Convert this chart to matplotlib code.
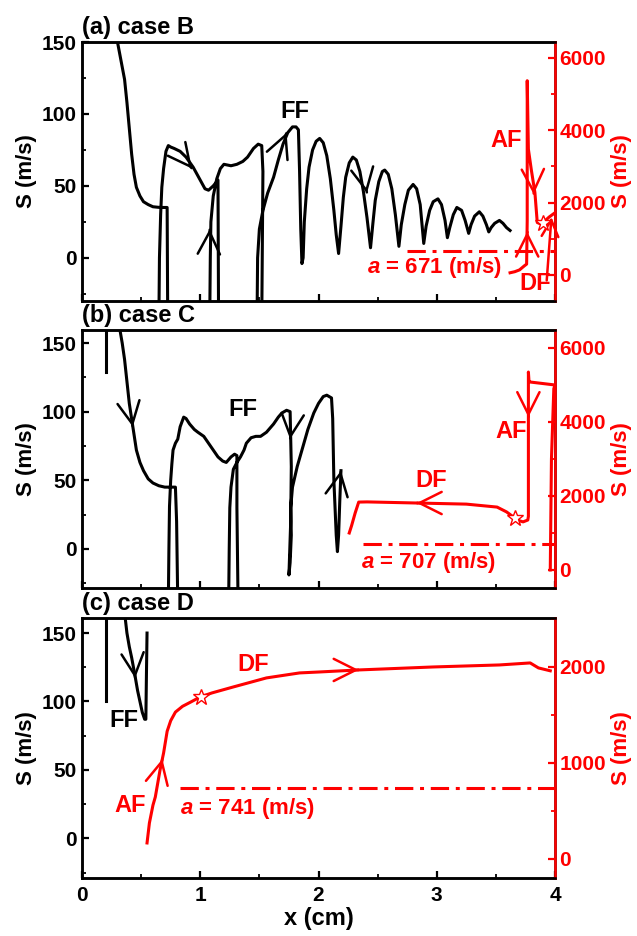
import matplotlib
matplotlib.use("Agg")
import matplotlib.pyplot as plt
from matplotlib.ticker import MultipleLocator
import numpy as np

plt.rcParams['font.family'] = ['Liberation Sans', 'DejaVu Sans']
plt.rcParams['font.weight'] = 'bold'
plt.rcParams['axes.labelweight'] = 'bold'
plt.rcParams['mathtext.fontset'] = 'custom'
plt.rcParams['mathtext.it'] = 'Liberation Sans:italic:bold'
plt.rcParams['mathtext.rm'] = 'Liberation Sans:bold'

# ---------------- data ----------------
# case B (panel a), black: flame speed S (m/s), left axis
b_black_x = [0.29, 0.30, 0.33, 0.36, 0.38, 0.40, 0.42, 0.44, 0.46, 0.49, 0.52, 0.56, 0.60, 0.66, 0.71,
             0.72, 0.725, 0.65, 0.655, 0.665, 0.675, 0.69, 0.71, 0.73, 0.75, 0.78, 0.83, 0.88, 0.94,
             1.00, 1.04, 1.07, 1.11, 1.14, 1.15, 1.155, 1.08, 1.085, 1.09, 1.11, 1.14, 1.17, 1.20,
             1.26, 1.31, 1.36, 1.40, 1.45, 1.49, 1.52, 1.53, 1.52, 1.48, 1.485, 1.50, 1.53, 1.57,
             1.62, 1.66, 1.70, 1.74, 1.78, 1.81, 1.83, 1.84, 1.85, 1.86, 1.87, 1.88, 1.90, 1.92,
             1.95, 1.98, 2.01, 2.04, 2.07, 2.10, 2.13, 2.15, 2.17, 2.19, 2.21, 2.23, 2.26, 2.29,
             2.32, 2.35, 2.38, 2.41, 2.44, 2.46, 2.48, 2.51, 2.54, 2.56, 2.59, 2.62, 2.65, 2.68,
             2.70, 2.73, 2.76, 2.80, 2.83, 2.86, 2.89, 2.91, 2.94, 2.97, 3.01, 3.04, 3.07, 3.09,
             3.11, 3.14, 3.17, 3.21, 3.24, 3.27, 3.29, 3.32, 3.36, 3.39, 3.42, 3.44, 3.46, 3.49,
             3.53, 3.56, 3.59, 3.62]
b_black_y = [165, 150, 137, 124, 108, 90, 72, 58, 49, 43, 39, 37, 35.5, 35, 35,
             35, -45, -45, 0, 30, 49, 62, 74, 78, 77, 76, 74, 70, 63,
             54, 48, 47, 50, 53, 54, -45, -45, 0, 25, 43, 55, 62, 65,
             64, 65, 67, 70, 76, 79, 78, 60, -45, -45, 0, 20, 33, 45,
             56, 68, 79, 87, 91, 91, 89, 60, 20, -4, 0, 25, 48, 63,
             75, 81, 83, 80, 71, 55, 33, 16, 3, 22, 42, 56, 66, 70,
             68, 60, 46, 28, 7, 24, 40, 53, 60, 61, 58, 48, 30, 8,
             23, 37, 47, 51, 48, 37, 10, 22, 33, 39, 41, 37, 26, 14,
             21, 30, 35, 33, 26, 17, 23, 29, 32, 29, 23, 18, 21, 24,
             26, 24, 21, 19]
# case B red: right axis
b_red_x = [3.62, 3.66, 3.70, 3.74, 3.76, 3.765, 3.765, 3.775, 3.80, 3.83, 3.85, 3.87, 3.90, 3.95, 4.0]
b_red_y = [60, 90, 140, 250, 300, 1500, 5370, 3475, 2900, 2280, 1450, 1420, 1450, 1600, 1720]
b_star = (3.90, 1450)
b_a = 671

# case C (panel b)
c_tick_x = [0.20, 0.20]
c_tick_y = [165, 129]
c_black_x = [0.315, 0.32, 0.34, 0.36, 0.38, 0.40, 0.43, 0.46, 0.49, 0.52, 0.56, 0.60, 0.65, 0.70,
             0.79, 0.80, 0.81, 0.73, 0.735, 0.74, 0.75, 0.76, 0.77, 0.79, 0.81, 0.83, 0.86, 0.88,
             0.91, 0.95, 0.98, 1.03, 1.07, 1.11, 1.15, 1.19, 1.22, 1.26, 1.29, 1.31, 1.31, 1.32,
             1.24, 1.245, 1.25, 1.26, 1.28, 1.31, 1.34, 1.37, 1.39, 1.43, 1.47, 1.51, 1.56, 1.62,
             1.66, 1.69, 1.73, 1.76, 1.77, 1.765, 1.75, 1.76, 1.77, 1.765, 1.78, 1.82, 1.87, 1.91,
             1.96, 2.00, 2.04, 2.07, 2.11, 2.12, 2.13, 2.15, 2.16, 2.17, 2.18, 2.19]
c_black_y = [165, 160, 150, 138, 122, 106, 89, 72, 63, 57, 51, 48, 46, 45,
             45, 20, -40, -40, 0, 31, 50, 62, 72, 77, 80, 89, 96, 95,
             91, 87, 85, 82, 77, 72, 67, 64, 63, 67, 69, 68, 30, -40,
             -40, 0, 30, 45, 58, 63, 67, 72, 77, 81, 82, 82, 85, 91,
             96, 99, 101, 100, 60, 20, -19, -10, 10, 30, 45, 60, 75, 87,
             99, 106, 111, 112, 110, 95, 50, 10, -2, 10, 35, 57]
c_red_x = [3.96, 3.97, 3.99, 4.0, 3.79, 3.78, 3.775, 3.775, 3.77, 3.73, 3.69, 3.66, 3.62, 3.59,
           3.51, 3.25, 2.83, 2.41, 2.34, 2.31, 2.28, 2.26]
c_red_y = [0, 3000, 4900, 5000, 5080, 5100, 5350, 1450, 1350, 1300, 1340, 1400, 1500, 1570,
           1700, 1780, 1810, 1840, 1835, 1540, 1200, 1000]
c_star = (3.66, 1400)
c_a = 707

# case D (panel c)
d_tick_x = [0.20, 0.20]
d_tick_y = [165, 100]
d_black_x = [0.36, 0.38, 0.40, 0.42, 0.45, 0.47, 0.49, 0.51, 0.53, 0.54, 0.545, 0.55]
d_black_y = [165, 150, 140, 132, 118, 108, 100, 92, 87, 87, 120, 150]
d_red_x = [0.55, 0.57, 0.60, 0.62, 0.66, 0.69, 0.72, 0.75, 0.79, 0.85, 0.92, 1.00, 1.10, 1.28, 1.56,
           1.84, 2.01, 2.34, 2.97, 3.53, 3.79, 3.86, 3.96]
d_red_y = [167, 375, 560, 646, 927, 1104, 1330, 1440, 1530, 1590, 1635, 1688, 1730, 1792, 1886,
           1938, 1948, 1969, 2000, 2021, 2042, 1990, 1960]
d_star = (1.01, 1690)
d_a = 741

RED = '#ff0000'
LW = 2.2
FS = 15
TFS = 17
DASH = (0, (6, 2.2, 1.3, 2.2))

fig = plt.figure(figsize=(6.37, 9.36), dpi=100)
L, W = 82 / 637, 473 / 637
boxes = [(42, 301), (330, 588), (618, 878)]
ylims_l = [(-30, 150), (-28.5, 159.5), (-29, 161)]
ylims_r = [(-720, 6440), (-487, 6486), (-198, 2510)]
titles = ['(a) case B', '(b) case C', '(c) case D']

axes = []
for i, (t, b) in enumerate(boxes):
    ax = fig.add_axes([L, 1 - b / 936, W, (b - t) / 936])
    ax2 = ax.twinx()
    ax.set_xlim(0, 4)
    ax.set_ylim(*ylims_l[i])
    ax2.set_ylim(*ylims_r[i])
    ax.xaxis.set_major_locator(MultipleLocator(1))
    ax.xaxis.set_minor_locator(MultipleLocator(0.5))
    ax.yaxis.set_major_locator(MultipleLocator(50))
    ax.yaxis.set_minor_locator(MultipleLocator(25))
    if i < 2:
        ax2.yaxis.set_major_locator(MultipleLocator(2000))
        ax2.yaxis.set_minor_locator(MultipleLocator(1000))
    else:
        ax2.yaxis.set_major_locator(MultipleLocator(1000))
        ax2.yaxis.set_minor_locator(MultipleLocator(500))
    for a in (ax, ax2):
        for s in a.spines.values():
            s.set_linewidth(1.8)
    ax2.spines['right'].set_color(RED)
    ax.tick_params(axis='both', which='major', direction='in', length=5, width=1.6,
                   labelsize=FS, top=False, right=False, pad=4)
    ax.tick_params(axis='x', which='major', pad=6)
    ax.tick_params(axis='both', which='minor', direction='in', length=3, width=1.3,
                   top=False, right=False)
    ax2.tick_params(axis='y', which='major', direction='in', length=5, width=1.6,
                    labelsize=FS, colors=RED, pad=3)
    ax2.tick_params(axis='y', which='minor', direction='in', length=3, width=1.3, colors=RED)
    if i < 2:
        ax.tick_params(axis='x', labelbottom=False)
    ax.set_ylabel('S (m/s)', fontsize=TFS - 1, fontweight='bold', labelpad=3)
    ax2.set_ylabel('S (m/s)', fontsize=TFS - 1, fontweight='bold', color=RED, labelpad=4)
    ax.text(0.0, 1.012, titles[i], transform=ax.transAxes, fontsize=TFS,
            fontweight='bold', ha='left', va='bottom')
    axes.append((ax, ax2))

axes[2][0].set_xlabel('x (cm)', fontsize=TFS, fontweight='bold', labelpad=1)


def chevron(a, x, y, ang, color, size=1.0):
    r = np.deg2rad(ang)
    a.annotate('', xy=(x, y), xytext=(-0.5 * np.cos(r), -0.5 * np.sin(r)),
               textcoords='offset points',
               arrowprops=dict(arrowstyle='->,head_length=1.6,head_width=0.8',
                               mutation_scale=10 * size, lw=1.8, color=color,
                               shrinkA=0, shrinkB=0))


def star(a, p):
    a.plot([p[0]], [p[1]], marker='*', ms=12, mfc='white', mec=RED, mew=1.0, zorder=6)


def alab(a, x, y, val):
    a.text(x, y, r'$a$ = %d (m/s)' % val, color=RED, fontsize=FS + 1, fontweight='bold',
           ha='center', va='center')

# ----- panel a -----
ax, ax2 = axes[0]
ax.plot(b_black_x, b_black_y, color='k', lw=LW, zorder=3)
ax2.plot(b_red_x, b_red_y, color=RED, lw=LW, zorder=3)
ax2.plot([2.75, 4.0], [b_a, b_a], color=RED, lw=LW, ls=DASH, zorder=2)
star(ax2, b_star)
chevron(ax, 0.93, 62, -52, 'k')
chevron(ax, 1.08, 20, 88, 'k')
chevron(ax, 1.73, 87, 68, 'k')
chevron(ax, 2.41, 45, -79, 'k')
chevron(ax2, 3.765, 1200, 90, RED)
chevron(ax2, 3.82, 2230, -88, RED)
ax2.annotate('', xy=(3.97, 1600), xytext=(3.93, -150),
             arrowprops=dict(arrowstyle='->,head_length=1.2,head_width=0.6', mutation_scale=10,
                             lw=1.8, color=RED, shrinkA=0, shrinkB=0))
ax.text(1.80, 102, 'FF', fontsize=TFS, fontweight='bold', ha='center', va='center')
ax2.text(3.59, 3725, 'AF', fontsize=TFS, fontweight='bold', color=RED, ha='center', va='center')
ax2.text(3.83, -230, 'DF', fontsize=TFS, fontweight='bold', color=RED, ha='center', va='center')
alab(ax2, 2.985, 195, b_a)

# ----- panel b -----
ax, ax2 = axes[1]
ax.plot(c_tick_x, c_tick_y, color='k', lw=LW, zorder=3)
ax.plot(c_black_x, c_black_y, color='k', lw=LW, zorder=3)
ax2.plot(c_red_x, c_red_y, color=RED, lw=LW, zorder=3)
ax2.plot([2.38, 4.0], [c_a, c_a], color=RED, lw=LW, ls=DASH, zorder=2)
star(ax2, c_star)
chevron(ax, 0.43, 89, -80, 'k')
chevron(ax, 1.76, 80, -96, 'k')
chevron(ax, 2.19, 57, 80, 'k')
chevron(ax2, 3.775, 4130, -90, RED)
chevron(ax2, 2.83, 1810, 180, RED)
ax.text(1.36, 101.5, 'FF', fontsize=TFS, fontweight='bold', ha='center', va='center')
ax2.text(2.95, 2405, 'DF', fontsize=TFS, fontweight='bold', color=RED, ha='center', va='center')
ax2.text(3.63, 3730, 'AF', fontsize=TFS, fontweight='bold', color=RED, ha='center', va='center')
alab(ax2, 2.93, 189, c_a)

# ----- panel c -----
ax, ax2 = axes[2]
ax.plot(d_tick_x, d_tick_y, color='k', lw=LW, zorder=3)
ax.plot(d_black_x, d_black_y, color='k', lw=LW, zorder=3)
ax2.plot(d_red_x, d_red_y, color=RED, lw=LW, zorder=3)
ax2.plot([0.83, 4.0], [d_a, d_a], color=RED, lw=LW, ls=DASH, zorder=2)
star(ax2, d_star)
chevron(ax, 0.45, 117, -84, 'k')
chevron(ax2, 0.68, 1042, 77, RED)
chevron(ax2, 2.34, 1969, 0, RED)
ax.text(0.35, 86, 'FF', fontsize=TFS, fontweight='bold', ha='center', va='center')
ax2.text(1.45, 2021, 'DF', fontsize=TFS, fontweight='bold', color=RED, ha='center', va='center')
ax2.text(0.41, 552, 'AF', fontsize=TFS, fontweight='bold', color=RED, ha='center', va='center')
alab(ax2, 1.40, 521, d_a)

fig.savefig('out.png', dpi=100)
